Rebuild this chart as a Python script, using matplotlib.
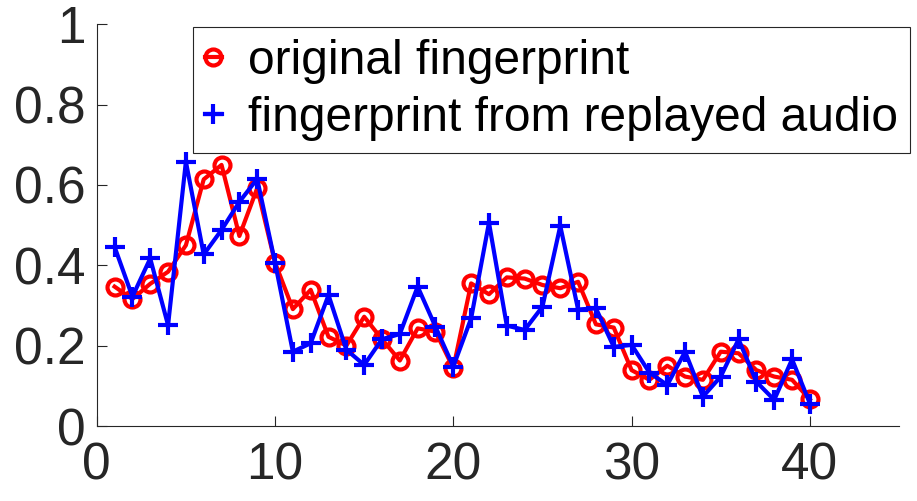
import matplotlib
matplotlib.use("Agg")
import matplotlib.pyplot as plt
import numpy as np

plt.rcParams['font.family'] = ['Liberation Sans', 'DejaVu Sans']

idx = list(range(1, 41))
original = [0.347, 0.316, 0.354, 0.384, 0.450, 0.614, 0.650, 0.473, 0.592, 0.407,
            0.291, 0.339, 0.222, 0.200, 0.272, 0.216, 0.163, 0.243, 0.235, 0.144,
            0.355, 0.328, 0.370, 0.367, 0.351, 0.343, 0.359, 0.253, 0.245, 0.139,
            0.115, 0.150, 0.123, 0.115, 0.185, 0.181, 0.139, 0.123, 0.115, 0.066]
replayed = [0.446, 0.322, 0.417, 0.251, 0.658, 0.427, 0.488, 0.558, 0.615, 0.407,
            0.185, 0.206, 0.326, 0.190, 0.152, 0.216, 0.229, 0.347, 0.247, 0.148,
            0.268, 0.506, 0.250, 0.239, 0.297, 0.498, 0.290, 0.293, 0.197, 0.202,
            0.133, 0.102, 0.185, 0.073, 0.123, 0.216, 0.110, 0.065, 0.166, 0.056]
labels = ['original fingerprint', 'fingerprint from replayed audio']
xticks = [0, 10, 20, 30, 40]
yticks = [0, 0.2, 0.4, 0.6, 0.8, 1]
yticklabels = ['0', '0.2', '0.4', '0.6', '0.8', '1']

fig = plt.figure(figsize=(9.17, 5.01), dpi=100)
ax = fig.add_axes([0.1055, 0.1497, 0.9804 - 0.1055, 0.9515 - 0.1497])

ax.plot(idx, original, color='#ff0000', lw=3, marker='o', ms=11.5,
        mfc='none', mec='#ff0000', mew=3, label=labels[0])
ax.plot(idx, replayed, color='#0000ff', lw=3, marker='+', ms=15,
        mew=3, label=labels[1])

ax.set_xlim(0, 45)
ax.set_ylim(0, 1)
ax.set_xticks(xticks)
ax.set_xticklabels([str(t) for t in xticks])
ax.set_yticks(yticks)
ax.set_yticklabels(yticklabels)

for s in ['top', 'right']:
    ax.spines[s].set_visible(False)
for s in ['left', 'bottom']:
    ax.spines[s].set_color('#262626')
    ax.spines[s].set_linewidth(0.8)
ax.tick_params(direction='in', length=7, width=0.8, colors='#262626',
               labelsize=37, labelcolor='#262626')
ax.tick_params(axis='x', pad=11)
ax.tick_params(axis='y', pad=8)

leg = ax.legend(loc='upper right', bbox_to_anchor=(910 / 917, 1 - 27 / 501),
                bbox_transform=fig.transFigure, fontsize=34.5,
                handlelength=0.35, handletextpad=0.55, borderpad=0.25,
                labelspacing=0.25, fancybox=False, framealpha=1,
                borderaxespad=0)
leg.get_frame().set_edgecolor('#262626')
leg.get_frame().set_linewidth(0.8)

fig.savefig('out.png', dpi=100)
